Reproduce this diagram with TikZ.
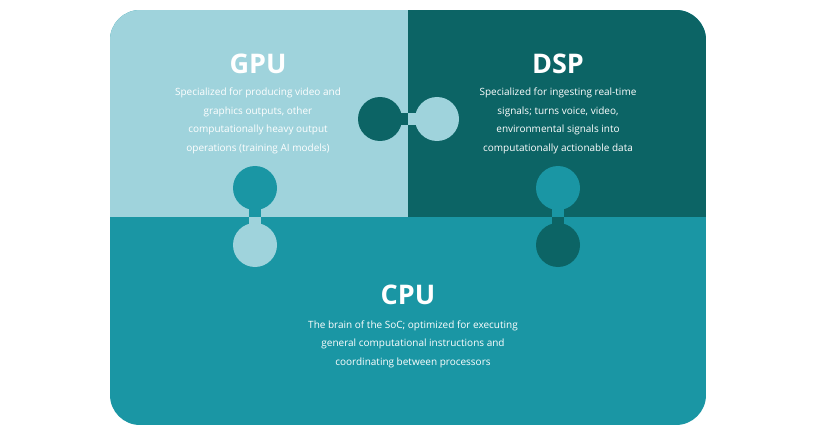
\documentclass[tikz,border=0pt]{standalone}
\usepackage{fontspec}
\setmainfont{Open Sans}
\definecolor{lightp}{HTML}{9FD3DC}
\definecolor{darkp}{HTML}{0C6465}
\definecolor{midp}{HTML}{1A96A4}
\begin{document}
\begin{tikzpicture}[x=1pt,y=-1pt,
  title/.style={text=white,font=\bfseries\fontsize{27}{30}\selectfont},
  body/.style={text=white,align=center,font=\fontsize{10}{18.5}\selectfont}]
\useasboundingbox (0,0) rectangle (814,433);
\fill[white] (0,0) rectangle (814,433);
\begin{scope}
\clip[rounded corners=30pt] (110,10) rectangle (706,425);
\fill[midp] (110,10) rectangle (706,425);
\fill[lightp] (110,10) rectangle (408,217);
\fill[darkp] (408,10) rectangle (706,217);
\end{scope}
% GPU/DSP
\fill[darkp] (380,119) circle (22);
\fill[darkp] (380,113) rectangle (408,125);
\fill[lightp] (437,119) circle (22);
\fill[lightp] (408,113) rectangle (437,125);
% GPU/CPU
\fill[midp] (255,188) circle (22);
\fill[midp] (249,188) rectangle (261,217);
\fill[lightp] (255,245) circle (22);
\fill[lightp] (249,217) rectangle (261,245);
% DSP/CPU
\fill[midp] (558,188) circle (22);
\fill[midp] (552,188) rectangle (564,217);
\fill[darkp] (558,245) circle (22);
\fill[darkp] (552,217) rectangle (564,245);
\node[title] (gput) at (258,64) {GPU};
\node[title] (dspt) at (558,64) {DSP};
\node[title] (cput) at (408,295) {CPU};
\node[body] (gpub) at (258,121) {Specialized for producing video and\\graphics outputs, other\\computationally heavy output\\operations (training AI models)};
\node[body] (dspb) at (558,121) {Specialized for ingesting real-time\\signals; turns voice, video,\\environmental signals into\\computationally actionable data};
\node[body] (cpub) at (413,344) {The brain of the SoC; optimized for executing\\general computational instructions and\\coordinating between processors};
\end{tikzpicture}
\end{document}
